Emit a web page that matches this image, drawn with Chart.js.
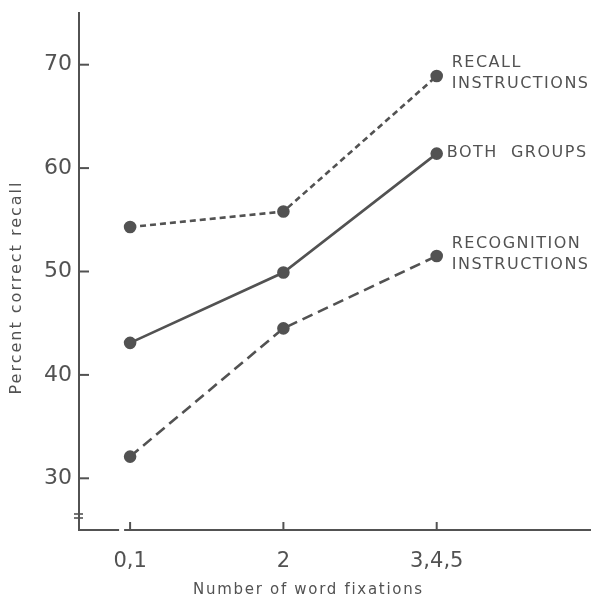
<!DOCTYPE html>
<html>
<head>
<meta charset="utf-8">
<script src="https://cdn.jsdelivr.net/npm/chart.js@4.4.1/dist/chart.umd.min.js"></script>
<style>
html,body{margin:0;padding:0;background:#fff;}
#wrap{width:593px;height:600px;position:relative;}
</style>
</head>
<body>
<div id="wrap"><canvas id="c" width="593" height="600"></canvas></div>
<script>
const categories = ['0,1', '2', '3,4,5'];
const recallInstructions = [54.3, 55.8, 68.9];
const bothGroups = [43.1, 49.9, 61.4];
const recognitionInstructions = [32.1, 44.5, 51.5];
const yTicks = [30, 40, 50, 60, 70];
const seriesLabels = [['RECALL', 'INSTRUCTIONS'], ['BOTH  GROUPS'], ['RECOGNITION', 'INSTRUCTIONS']];
const xTitle = 'Number of word fixations';
const yTitle = 'Percent correct recall';

const INK = '#525252';
const pts = arr => arr.map((v, i) => ({x: i, y: v}));

const decor = {
  id: 'decor',
  afterDraw(chart) {
    const ctx = chart.ctx;
    const xs = chart.scales.x, ys = chart.scales.y;
    const a = chart.chartArea;
    ctx.save();
    ctx.strokeStyle = INK;
    ctx.lineWidth = 2;
    // inward y ticks
    yTicks.forEach(v => {
      const y = ys.getPixelForValue(v);
      ctx.beginPath(); ctx.moveTo(a.left, y); ctx.lineTo(a.left + 10, y); ctx.stroke();
    });
    // inward x ticks
    categories.forEach((c, i) => {
      const x = xs.getPixelForValue(i);
      ctx.beginPath(); ctx.moveTo(x, a.bottom); ctx.lineTo(x, a.bottom - 8); ctx.stroke();
    });
    // x axis gap
    const x0 = xs.getPixelForValue(0);
    ctx.fillStyle = '#fff';
    ctx.fillRect(x0 - 11, a.bottom - 3, 5, 6);
    // y axis break marks
    ctx.lineWidth = 1.6;
    [a.bottom - 16, a.bottom - 12].forEach(y => {
      ctx.beginPath(); ctx.moveTo(a.left - 5, y); ctx.lineTo(a.left + 4, y); ctx.stroke();
    });
    // series labels
    ctx.fillStyle = INK;
    ctx.font = '16px "DejaVu Sans"';
    ctx.letterSpacing = '1.5px';
    ctx.textAlign = 'left';
    ctx.textBaseline = 'middle';
    const offs = [[15, [-13, 8]], [10, [-1]], [15, [-12, 9]]];
    chart.data.datasets.forEach((ds, di) => {
      const meta = chart.getDatasetMeta(di);
      const last = meta.data[meta.data.length - 1];
      const lines = seriesLabels[di];
      lines.forEach((t, li) => {
        ctx.fillText(t, last.x + offs[di][0], last.y + offs[di][1][li]);
      });
    });
    // axis titles
    ctx.font = '15px "DejaVu Sans"';
    ctx.letterSpacing = '1.7px';
    ctx.textAlign = 'center';
    ctx.fillText(xTitle, (a.left + a.right) / 2 - 26, a.bottom + 60);
    ctx.translate(17, (a.top + a.bottom) / 2 + 16);
    ctx.rotate(-Math.PI / 2);
    ctx.font = '16px "DejaVu Sans"';
    ctx.letterSpacing = '2px';
    ctx.fillText(yTitle, 0, 0);
    ctx.restore();
  }
};

new Chart(document.getElementById('c'), {
  type: 'line',
  data: {
    datasets: [
      {label: 'Recall instructions', data: pts(recallInstructions), borderDash: [6, 4]},
      {label: 'Both groups', data: pts(bothGroups), borderDash: []},
      {label: 'Recognition instructions', data: pts(recognitionInstructions), borderDash: [11, 6]}
    ].map(d => Object.assign({
      borderColor: INK, backgroundColor: INK, pointBackgroundColor: INK, pointBorderColor: INK,
      borderWidth: 2.6, pointRadius: 5, pointHoverRadius: 5, tension: 0, fill: false
    }, d))
  },
  options: {
    responsive: false,
    animation: false,
    events: [],
    layout: {autoPadding: false, padding: {top: 13, right: 3, left: 0, bottom: 0}},
    plugins: {legend: {display: false}, tooltip: {enabled: false}},
    scales: {
      x: {
        type: 'linear', min: -1/3, max: 3,
        afterBuildTicks: s => { s.ticks = categories.map((c, i) => ({value: i})); },
        afterFit: s => { s.height = 70; s.paddingLeft = 0; s.paddingRight = 0; },
        grid: {display: false, drawTicks: false},
        border: {display: true, color: INK, width: 2},
        ticks: {
          callback: v => categories[v], padding: 19, maxRotation: 0,
          color: INK, font: {family: 'DejaVu Sans', size: 21}
        }
      },
      y: {
        min: 25, max: 75,
        afterBuildTicks: s => { s.ticks = yTicks.map(v => ({value: v})); },
        afterFit: s => { s.width = 79; s.paddingTop = 0; s.paddingBottom = 0; },
        grid: {display: false, drawTicks: false},
        border: {display: true, color: INK, width: 2},
        ticks: {padding: 7, color: INK, font: {family: 'DejaVu Sans', size: 22}}
      }
    }
  },
  plugins: [decor]
});
</script>
</body>
</html>
